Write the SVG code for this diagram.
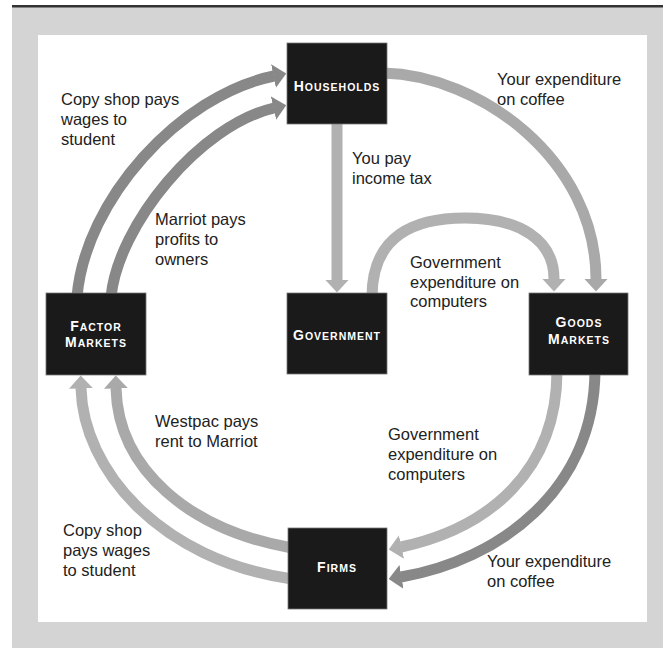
<svg xmlns="http://www.w3.org/2000/svg" width="663" height="648" viewBox="0 0 663 648">
<defs>
<style>
.lbl{font-family:"Liberation Sans",Arial,sans-serif;font-size:16.5px;fill:#222}
.box{fill:#1a1a1a;stroke:#777;stroke-width:0.8}
.nt{font-family:"Liberation Sans",Arial,sans-serif;font-weight:bold;fill:#fff;text-anchor:middle;letter-spacing:1px}
.big{font-size:14px}
.sm{font-size:10.5px}
.c{fill:none;stroke-width:11;stroke-linecap:butt}
.lt{stroke:#b1b1b1}
.lt2{stroke:#a9a9a9}
.dk{stroke:#888}
</style>
<marker id="ah-lt" markerUnits="userSpaceOnUse" viewBox="0 -12 13 24" refX="0.5" refY="0" markerWidth="13" markerHeight="24" orient="auto"><path d="M0,-12 L13,0 L0,12 z" fill="#b1b1b1"/></marker>
<marker id="ah-lt2" markerUnits="userSpaceOnUse" viewBox="0 -12 13 24" refX="0.5" refY="0" markerWidth="13" markerHeight="24" orient="auto"><path d="M0,-12 L13,0 L0,12 z" fill="#a9a9a9"/></marker>
<marker id="ah-dk" markerUnits="userSpaceOnUse" viewBox="0 -12 13 24" refX="0.5" refY="0" markerWidth="13" markerHeight="24" orient="auto"><path d="M0,-12 L13,0 L0,12 z" fill="#888"/></marker>
</defs>
<rect x="0" y="0" width="663" height="648" fill="#fff"/>
<rect x="12" y="7" width="651" height="641" fill="#d4d4d4"/>
<rect x="12" y="5" width="651" height="2.5" fill="#333"/>
<rect x="38" y="35" width="609" height="587" fill="#fff"/>

<g id="connectors">
<path class="c lt" d="M 337 120 L 337 280" marker-end="url(#ah-lt)"/>
<path class="c lt2" d="M 383 73 C 480 75, 596 160, 596 279" marker-end="url(#ah-lt2)"/>
<path class="c lt" d="M 372 297 C 372 235, 415 218, 465 218 C 520 218, 554 240, 554 279" marker-end="url(#ah-lt)"/>
<path class="c lt" d="M 557 371 C 557 470, 490 528, 401 547" marker-end="url(#ah-lt)"/>
<path class="c dk" d="M 595 371 C 594 490, 500 560, 401 577" marker-end="url(#ah-dk)"/>
<path class="c lt2" d="M 292 548 C 190 530, 118 470, 116 388" marker-end="url(#ah-lt2)"/>
<path class="c lt" d="M 292 579 C 160 560, 83 470, 81 388" marker-end="url(#ah-lt)"/>
<path class="c dk" d="M 77 297 C 85 200, 180 95, 274 76" marker-end="url(#ah-dk)"/>
<path class="c dk" d="M 111 297 C 118 225, 200 125, 274 108" marker-end="url(#ah-dk)"/>
</g>

<g id="households">
<rect class="box" x="287" y="43" width="100" height="81"/>
<text class="nt" x="337" y="91"><tspan class="big">H</tspan><tspan class="sm">OUSEHOLDS</tspan></text>
</g>
<g id="government">
<rect class="box" x="287" y="293" width="100" height="81"/>
<text class="nt" x="337" y="340"><tspan class="big">G</tspan><tspan class="sm">OVERNMENT</tspan></text>
</g>
<g id="factor-markets">
<rect class="box" x="46" y="293" width="100" height="82"/>
<text class="nt" x="96" y="331"><tspan class="big">F</tspan><tspan class="sm">ACTOR</tspan></text>
<text class="nt" x="96" y="347"><tspan class="big">M</tspan><tspan class="sm">ARKETS</tspan></text>
</g>
<g id="goods-markets">
<rect class="box" x="529" y="293" width="99" height="82"/>
<text class="nt" x="579" y="327"><tspan class="big">G</tspan><tspan class="sm">OODS</tspan></text>
<text class="nt" x="579" y="344"><tspan class="big">M</tspan><tspan class="sm">ARKETS</tspan></text>
</g>
<g id="firms">
<rect class="box" x="288" y="528" width="99" height="81"/>
<text class="nt" x="337" y="572"><tspan class="big">F</tspan><tspan class="sm">IRMS</tspan></text>
</g>

<g id="labels">
<text class="lbl" x="61" y="105"><tspan x="61">Copy shop pays</tspan><tspan x="61" dy="20">wages to</tspan><tspan x="61" dy="20">student</tspan></text>
<text class="lbl" x="155" y="225"><tspan x="155">Marriot pays</tspan><tspan x="155" dy="20">profits to</tspan><tspan x="155" dy="20">owners</tspan></text>
<text class="lbl" x="352" y="164"><tspan x="352">You pay</tspan><tspan x="352" dy="20">income tax</tspan></text>
<text class="lbl" x="497" y="85"><tspan x="497">Your expenditure</tspan><tspan x="497" dy="19.5">on coffee</tspan></text>
<text class="lbl" x="410" y="268"><tspan x="410">Government</tspan><tspan x="410" dy="19.5">expenditure on</tspan><tspan x="410" dy="19.5">computers</tspan></text>
<text class="lbl" x="155" y="427"><tspan x="155">Westpac pays</tspan><tspan x="155" dy="20">rent to Marriot</tspan></text>
<text class="lbl" x="63" y="536"><tspan x="63">Copy shop</tspan><tspan x="63" dy="20">pays wages</tspan><tspan x="63" dy="20">to student</tspan></text>
<text class="lbl" x="388" y="440"><tspan x="388">Government</tspan><tspan x="388" dy="20">expenditure on</tspan><tspan x="388" dy="20">computers</tspan></text>
<text class="lbl" x="487" y="567"><tspan x="487">Your expenditure</tspan><tspan x="487" dy="20">on coffee</tspan></text>
</g>
</svg>
